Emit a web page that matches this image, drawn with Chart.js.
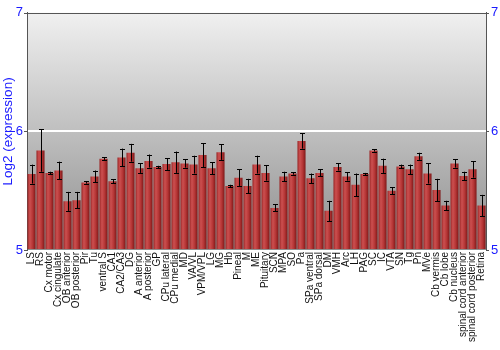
<!DOCTYPE html>
<html>
<head>
<meta charset="utf-8">
<script src="https://cdn.jsdelivr.net/npm/chart.js@4"></script>
<style>
html,body{margin:0;padding:0;background:#fff;}
#wrap{width:500px;height:350px;position:relative;}
</style>
</head>
<body>
<div id="wrap"><canvas id="c" width="500" height="350"></canvas></div>
<script>
const categories = ["LS","RS","Cx motor","Cx cingulate","OB anterior","OB posterior","Pir","Tu","ventral S","CA1","CA2/CA3","DG","A anterior","A posterior","GP","CPu lateral","CPu medial","MD","VA/VL","VPM/VPL","LG","MG","Hb","Pineal","M","ME","Pituitary","SCN","MPA","SO","Pa","SPa ventral","SPa dorsal","DM","VMH","Arc","LH","PAG","SC","IC","VTA","SN","Tg","Pn","MVe","Cb vermis","Cb lobe","Cb nucleus","spinal cord anterior","spinal cord posterior","Retina"];
const expression = [5.64,5.84,5.65,5.67,5.41,5.42,5.57,5.62,5.77,5.58,5.78,5.82,5.69,5.75,5.70,5.725,5.74,5.73,5.72,5.80,5.69,5.825,5.54,5.61,5.54,5.72,5.65,5.355,5.62,5.645,5.92,5.605,5.65,5.33,5.70,5.62,5.55,5.64,5.84,5.71,5.50,5.705,5.68,5.79,5.645,5.505,5.375,5.73,5.625,5.68,5.375];
const errors = [0.08,0.18,0.01,0.075,0.08,0.07,0.01,0.05,0.01,0.015,0.075,0.075,0.04,0.055,0.01,0.05,0.09,0.035,0.075,0.1,0.05,0.065,0.01,0.07,0.06,0.075,0.065,0.03,0.04,0.01,0.065,0.04,0.03,0.085,0.03,0.035,0.095,0.01,0.01,0.06,0.03,0.015,0.04,0.03,0.085,0.095,0.04,0.035,0.035,0.07,0.09];
const yTicks = [5,6,7];

const FONT = "'Liberation Sans', Arial, sans-serif";
const BLUE = '#1a1aff';

const bgPlugin = {
  id: 'bg',
  beforeDraw(chart) {
    const {ctx, chartArea: a} = chart;
    const g = ctx.createLinearGradient(0, a.top, 0, a.bottom);
    g.addColorStop(0, '#f0f0f0');
    g.addColorStop(1, '#8e8e8e');
    ctx.save();
    ctx.fillStyle = g;
    ctx.fillRect(a.left, a.top, a.right - a.left, a.bottom - a.top);
    ctx.restore();
  }
};

const errPlugin = {
  id: 'err',
  afterDatasetsDraw(chart) {
    const {ctx} = chart;
    const xs = chart.scales.x, ys = chart.scales.y;
    ctx.save();
    ctx.strokeStyle = '#000';
    ctx.lineWidth = 1;
    expression.forEach((v, i) => {
      const x = Math.round(xs.getPixelForValue(i)) + 0.5;
      const t = ys.getPixelForValue(v + errors[i]);
      const b = ys.getPixelForValue(v - errors[i]);
      ctx.beginPath();
      ctx.moveTo(x, t); ctx.lineTo(x, b);
      ctx.moveTo(x - 2.5, Math.round(t) + 0.5); ctx.lineTo(x + 2.5, Math.round(t) + 0.5);
      ctx.moveTo(x - 2.5, Math.round(b) + 0.5); ctx.lineTo(x + 2.5, Math.round(b) + 0.5);
      ctx.stroke();
    });
    ctx.restore();
  }
};

function barFill(c) {
  const chart = c.chart;
  if (!chart.chartArea || !chart.scales.x) return '#b03030';
  const xs = chart.scales.x;
  const cx = xs.getPixelForValue(c.dataIndex);
  const w = (xs.right - xs.left) / categories.length * 0.9;
  const g = chart.ctx.createLinearGradient(cx - w / 2, 0, cx + w / 2, 0);
  g.addColorStop(0, '#9a2626');
  g.addColorStop(0.3, '#cc5050');
  g.addColorStop(0.65, '#b53535');
  g.addColorStop(1, '#7e1818');
  return g;
}

new Chart(document.getElementById('c'), {
  type: 'bar',
  data: {
    labels: categories,
    datasets: [{
      data: expression,
      backgroundColor: barFill,
      borderWidth: 0,
      barPercentage: 0.9,
      categoryPercentage: 1.0,
      base: 5
    }]
  },
  options: {
    responsive: false,
    animation: false,
    layout: {padding: {top: 10, left: 0, right: 0, bottom: 0}},
    plugins: {legend: {display: false}, tooltip: {enabled: false}},
    scales: {
      x: {
        offset: true,
        grid: {display: false, drawTicks: false},
        border: {display: false},
        ticks: {
          autoSkip: false, minRotation: 90, maxRotation: 90, padding: 2,
          color: '#111', font: {family: FONT, size: 10}
        },
        afterFit(s) { s.height = 100; }
      },
      y: {
        position: 'left',
        min: 5, max: 7,
        afterBuildTicks(s) { s.ticks = yTicks.map(v => ({value: v})); },
        grid: {
          color: c => c.tick && c.tick.value === 6 ? '#ffffff' : 'rgba(0,0,0,0)',
          lineWidth: 2,
          drawTicks: false
        },
        border: {display: true, color: '#555', width: 1},
        ticks: {color: BLUE, font: {family: FONT, size: 13}, padding: 4},
        title: {display: true, text: 'Log2 (expression)', color: BLUE, font: {family: FONT, size: 13.5}, padding: 0},
        afterFit(s) { s.width = 27; }
      },
      y2: {
        position: 'right',
        min: 5, max: 7,
        afterBuildTicks(s) { s.ticks = yTicks.map(v => ({value: v})); },
        grid: {display: false, drawTicks: false},
        border: {display: true, color: '#555', width: 1},
        ticks: {color: BLUE, font: {family: FONT, size: 13}, padding: 5},
        afterFit(s) { s.width = 14; }
      }
    }
  },
  plugins: [bgPlugin, errPlugin, {
    id: 'topline',
    afterDraw(chart) {
      const {ctx, chartArea: a} = chart;
      ctx.save();
      ctx.strokeStyle = '#555';
      ctx.lineWidth = 1;
      ctx.beginPath();
      ctx.moveTo(a.left, Math.round(a.top) + 0.5); ctx.lineTo(a.right, Math.round(a.top) + 0.5);
      yTicks.forEach(v => {
        const y = Math.round(chart.scales.y.getPixelForValue(v)) + 0.5;
        ctx.moveTo(a.left - 3, y); ctx.lineTo(a.left, y);
        ctx.moveTo(a.right, y); ctx.lineTo(a.right + 3, y);
      });
      ctx.stroke();
      ctx.restore();
    }
  }]
});
</script>
</body>
</html>
